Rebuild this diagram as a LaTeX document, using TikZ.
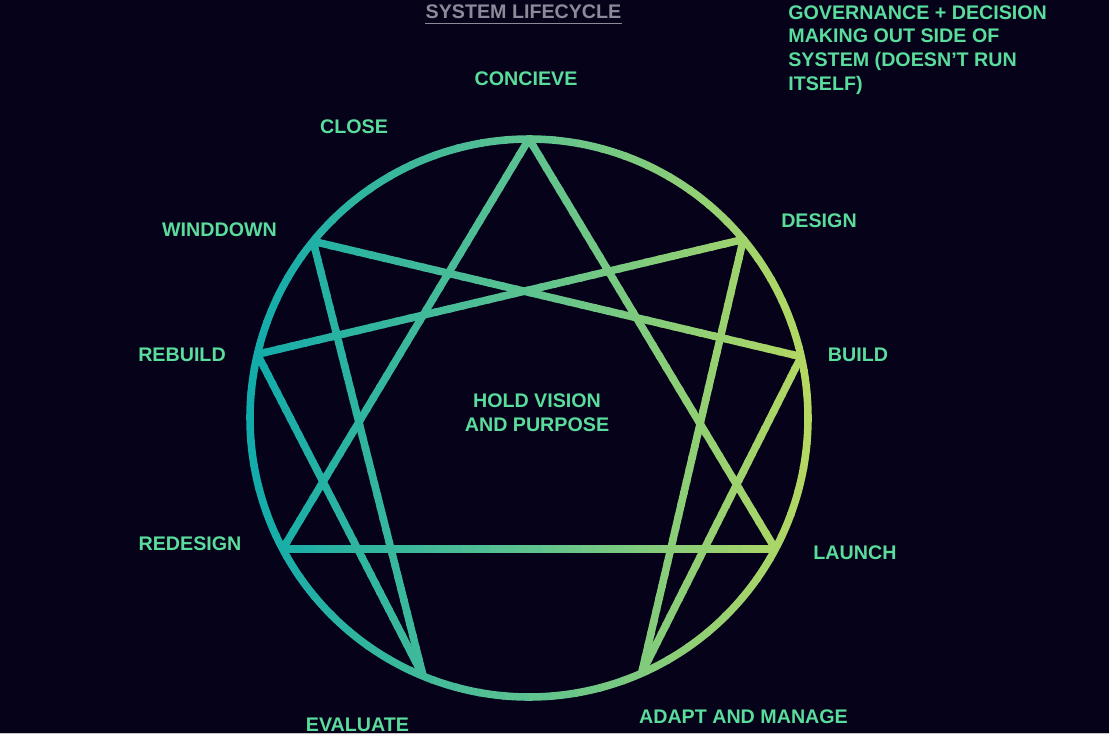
\documentclass[tikz,border=0pt]{standalone}
\usepackage{fontspec}
\setmainfont{Liberation Sans}
\usetikzlibrary{calc}
\definecolor{nightBg}{HTML}{05021A}
\definecolor{stageG}{HTML}{5ADC9C}
\definecolor{titleGrey}{HTML}{8C8A98}
\definecolor{ringL}{HTML}{10ABAB}
\definecolor{ringM}{HTML}{5CC290}
\definecolor{ringR}{HTML}{B4D862}
\tikzstyle{stage}=[text=stageG, font=\bfseries\fontsize{11.2}{13.6}\selectfont, inner sep=0pt]
\tikzstyle{ring}=[line width=4.3pt, line cap=butt]

% colour of the ring at a given x (in pt): teal -> green -> lime
\newcommand{\setringcolor}[1]{%
  \pgfmathsetmacro{\mixp}{max(0,min(100,(#1-140)/3.193))}%
  \ifdim\mixp pt<50pt
    \pgfmathsetmacro{\mixq}{2*\mixp}\colorlet{segc}{ringM!\mixq!ringL}%
  \else
    \pgfmathsetmacro{\mixq}{2*\mixp-100}\colorlet{segc}{ringR!\mixq!ringM}%
  \fi}

% straight line between two named points, in coloured pieces
\newcommand{\gradline}[2]{%
  \path (#1); \pgfgetlastxy{\ax}{\ay}%
  \path (#2); \pgfgetlastxy{\bx}{\by}%
  \foreach \i in {1,...,40}{
    \pgfmathsetmacro{\ta}{-0.04+1.08*(\i-1)/40}
    \pgfmathsetmacro{\tb}{-0.04+1.08*\i/40+0.006}
    \setringcolor{\ax+(\bx-\ax)*(-0.04+1.08*(\i-0.5)/40)}
    \draw[ring, segc] ($(#1)!\ta!(#2)$) -- ($(#1)!\tb!(#2)$);
  }}

\begin{document}
\begin{tikzpicture}[x=0.02cm, y=-0.02cm]
  \fill[nightBg] (0,0) rectangle (1109,734);
  \useasboundingbox (0,0) rectangle (1109,734);
  \fill[gray!45] (0,732.6) rectangle (1109,734);

  % the nine points of the lifecycle, on the ring (y runs down)
  \coordinate (mid) at (529,418);
  \coordinate (p0) at ($(mid)+(-90:279)$);    % concieve
  \coordinate (p1) at ($(mid)+(-39.8:279)$);  % design
  \coordinate (p2) at ($(mid)+(-12.7:279)$);  % build
  \coordinate (p3) at ($(mid)+(28:279)$);     % launch
  \coordinate (p4) at ($(mid)+(66.2:279)$);   % adapt
  \coordinate (p5) at ($(mid)+(112.3:279)$);  % evaluate
  \coordinate (p6) at ($(mid)+(152:279)$);    % redesign
  \coordinate (p7) at ($(mid)+(193.2:279)$);  % rebuild
  \coordinate (p8) at ($(mid)+(219.3:279)$);  % winddown

  % triangle and hexad
  \begin{scope}
    \clip (mid) circle[radius=279];
    \gradline{p0}{p3} \gradline{p3}{p6} \gradline{p6}{p0}
    \gradline{p1}{p4} \gradline{p4}{p2} \gradline{p2}{p8}
    \gradline{p8}{p5} \gradline{p5}{p7} \gradline{p7}{p1}
  \end{scope}

  % outer ring
  \path (mid); \pgfgetlastxy{\cx}{\cy}
  \foreach \a in {0,5,...,355}{
    \setringcolor{\cx+158.8*cos(\a+2.5)}
    \draw[ring, segc] ($(mid)+(\a:279)$) arc[start angle=\a, end angle=\a+5.4, radius=279];
  }

  % title
  \node[stage, text=titleGrey] (title) at (523.5,12) {SYSTEM LIFECYCLE};
  \draw[titleGrey, line width=0.9pt] ([yshift=-2.3pt]title.south west) -- ([yshift=-2.3pt]title.south east);

  \node[stage, align=left, anchor=north west] (gov) at (788,5)
    {GOVERNANCE + DECISION\\MAKING OUT SIDE OF\\SYSTEM (DOESN’T RUN\\ITSELF)};

  \node[stage, align=center] (vision) at (537,413) {HOLD VISION\\AND PURPOSE};

  % stage labels
  \node[stage] (concieve) at (526,79) {CONCIEVE};
  \node[stage] (design) at (819,221) {DESIGN};
  \node[stage] (build) at (858,355) {BUILD};
  \node[stage] (launch) at (855,553) {LAUNCH};
  \node[stage] (adapt) at (743.5,717) {ADAPT AND MANAGE};
  \node[stage] (evaluate) at (357.5,725) {EVALUATE};
  \node[stage] (redesign) at (190,544) {REDESIGN};
  \node[stage] (rebuild) at (182,355) {REBUILD};
  \node[stage] (winddown) at (219.5,230) {WINDDOWN};
  \node[stage] (close) at (354,127) {CLOSE};
\end{tikzpicture}
\end{document}
